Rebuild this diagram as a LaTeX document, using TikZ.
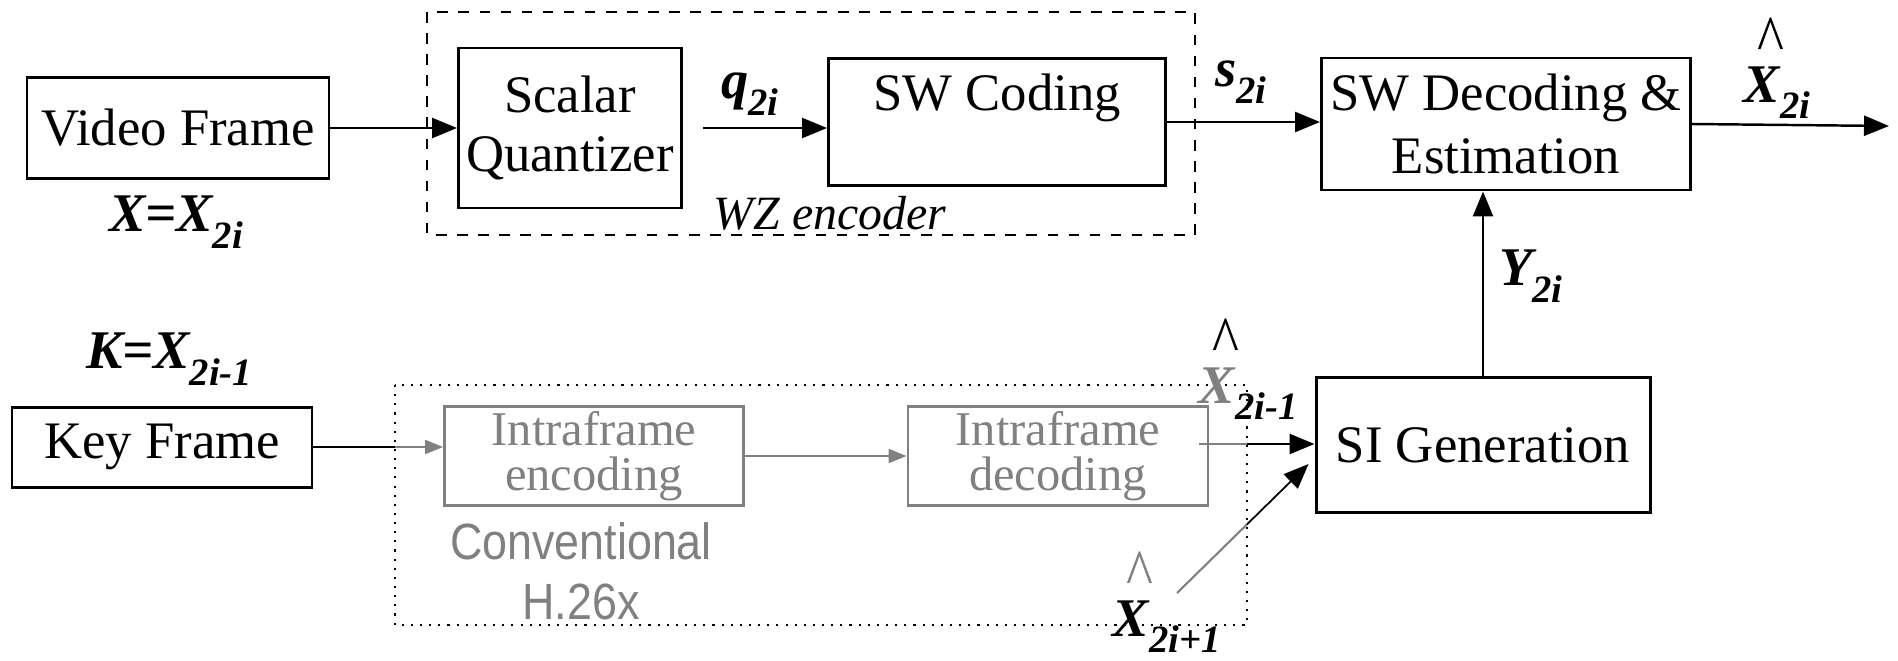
\documentclass[tikz,border=0pt]{standalone}
\usepackage{fontspec}
\setmainfont{Liberation Serif}
\newfontfamily\convfont[FakeStretch=0.88]{Liberation Sans}
\usetikzlibrary{arrows.meta,calc,positioning}
\tikzset{
    block/.style = {draw, rectangle, line width=0.85pt, align=center,
        inner sep=0pt, font=\fontsize{15}{17}\selectfont},
    greyblock/.style = {draw=gray, rectangle, line width=0.8pt, text=gray,
        align=center, inner sep=0pt, font=\fontsize{13.8}{13}\selectfont},
    arrow/.style = {draw, line width=0.7pt, -{Triangle[length=2.5mm,width=2mm]}},
    greyarrow/.style = {draw=gray, line width=0.6pt, -{Triangle[length=1.8mm,width=1.4mm]}},
    sig/.style = {inner sep=0pt, font=\fontsize{15.5}{17}\selectfont\bfseries\itshape}
}
\newcommand{\sbs}[1]{\raisebox{-0.3em}{\fontsize{11}{11}\selectfont #1}}
\newcommand{\hatX}[3][black]{\makebox[0pt][l]{\hspace{0.25em}\raisebox{0.72em}{\normalfont\color{#1}\scalebox{1.05}[1.25]{\textasciicircum}}}{\color{#2}X}\sbs{#3}}

\begin{document}
\begin{tikzpicture}[x=0.1mm,y=-0.1mm]
    \useasboundingbox (0,0) rectangle (1898,660);
    % encoder frames
    \draw[dashed, line width=0.6pt] (427,12) rectangle (1195,235);
    \draw[dotted, line width=0.6pt] (395,385) rectangle (1247,625);
    % blocks
    \node[block, minimum width=30.2mm, minimum height=10.1mm] (video) at (178,128) {Video Frame};
    \node[block, minimum width=22.3mm, minimum height=16mm] (quant) at (570,128) {Scalar\\Quantizer};
    \node[block, minimum width=33.7mm, minimum height=12.7mm] (swc) at (997,122) {SW Coding\\ \mbox{}};
    \node[block, minimum width=36.9mm, minimum height=13.2mm,
        font=\fontsize{15}{18}\selectfont] (swdec) at (1506,124) {SW Decoding \&\\Estimation};
    \node[block, minimum width=30mm, minimum height=8mm] (key) at (162,447) {Key Frame};
    \node[greyblock, minimum width=29.9mm, minimum height=9.9mm] (intenc) at (594,456) {Intraframe\\encoding};
    \node[greyblock, minimum width=30mm, minimum height=9.9mm] (intdec) at (1058,456) {Intraframe\\decoding};
    \node[block, minimum width=33.4mm, minimum height=13.5mm] (sigen) at (1483,445) {SI Generation};
    % labels
    \node[sig] (xlab) at (176,222) {X=X\sbs{2i}};
    \node[sig] (qlab) at (750,94) {q\sbs{2i}};
    \node[inner sep=0pt, font=\fontsize{13.6}{16}\selectfont\itshape] (wzlab) at (830,213) {WZ encoder};
    \node[sig] (slab) at (1241,82) {s\sbs{2i}};
    \node[sig, anchor=base west] (xout) at (1743,102) {\hatX{black}{2i}};
    \node[sig] (ylab) at (1531,276) {Y\sbs{2i}};
    \node[sig] (klab) at (169,359) {K=X\sbs{2i-1}};
    \node[sig, anchor=base west] (xprev) at (1198,403) {\hatX{gray}{2i-1}};
    \node[text=gray, align=center, inner sep=0pt,
        font=\convfont\fontsize{14.5}{17}\selectfont] (conv) at (581,571) {Conventional\\H.26x};
    \node[sig, anchor=base west] (xnext) at (1112,636) {\hatX[gray]{black}{2i+1}};
    % connectors
    \coordinate (out) at (1889,126);
    \coordinate (keyin) at (395,450);
    \coordinate (decout) at (1247,444);
    \coordinate (xnin) at (1177,593);
    \coordinate (sin) at ($(sigen.west)+(-6,19)$);
    \draw[arrow] (video) -- (quant);
    \draw[arrow, shorten <=2mm] (quant.east) -- (quant.east -| swc.west);
    \draw[arrow] (swc.east) -- (swc.east -| swdec.west);
    \draw[arrow] (swdec.east) -- (out);
    \draw[arrow] (sigen.north) -- (sigen.north |- swdec.south);
    \draw[line width=0.8pt] (key.east) -- (key.east -| keyin);
    \draw[greyarrow] (key.east -| keyin) -- (key.east -| intenc.west);
    \draw[greyarrow] (intenc) -- (intdec);
    \draw[gray, line width=0.6pt] ([xshift=-1mm]intdec.east |- decout) -- (decout);
    \draw[arrow] (decout) -- (decout -| sigen.west);
    \draw[gray, line width=0.6pt] (xnin) -- ($(xnin)!0.53!(sin)$);
    \draw[arrow, line width=0.5pt] ($(xnin)!0.53!(sin)$) -- (sin);
\end{tikzpicture}
\end{document}
